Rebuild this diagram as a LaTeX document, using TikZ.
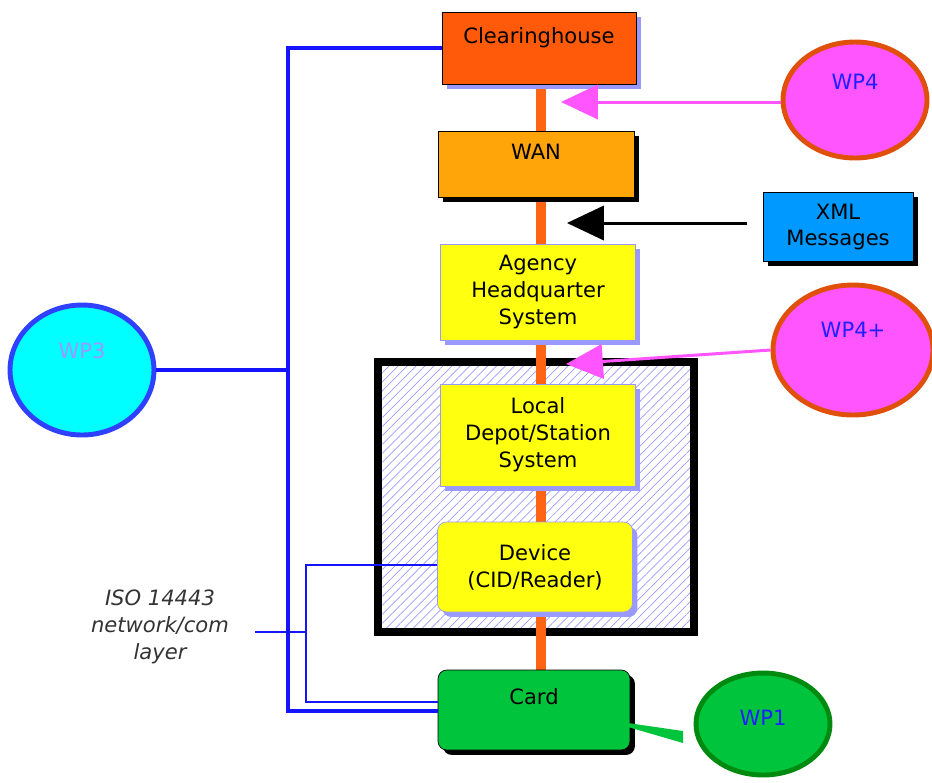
\documentclass[tikz,border=0pt]{standalone}
\usepackage{fontspec}
\setmainfont{DejaVu Sans}
\usetikzlibrary{arrows.meta,shapes.geometric,shadows,patterns.meta}
\definecolor{chorange}{HTML}{FF5A0A}
\definecolor{wanorange}{HTML}{FFA50A}
\definecolor{barorange}{HTML}{FF6414}
\definecolor{boxyellow}{HTML}{FFFF10}
\definecolor{lav}{HTML}{9999FF}
\definecolor{xmlblue}{HTML}{0099FF}
\definecolor{cardgreen}{HTML}{00C43C}
\definecolor{wpgreen}{HTML}{008A10}
\definecolor{wppink}{HTML}{FF55FF}
\definecolor{wprim}{HTML}{E0500A}
\definecolor{wpcyan}{HTML}{00FFFF}
\definecolor{wprimblue}{HTML}{3040FF}
\definecolor{busblue}{HTML}{1414FF}
\definecolor{wptext}{HTML}{2020FF}
\definecolor{hatch}{HTML}{9A9AFF}
\tikzset{
  box/.style={rectangle, inner sep=0pt, align=center, font=\fontsize{12}{15.3}\selectfont},
  lavshadow/.style={drop shadow={shadow xshift=2.8pt, shadow yshift=-2.8pt, fill=lav, opacity=1}},
  blkshadow/.style={drop shadow={shadow xshift=2.8pt, shadow yshift=-2.8pt, fill=black, opacity=1}},
  raised/.style={text height=9pt, text depth=#1},
  wp/.style={ellipse, inner sep=0pt, line width=2.8pt, text=wptext, font=\fontsize{12}{15}\selectfont},
  bus/.style={busblue, line width=2.2pt},
  thinbus/.style={busblue, line width=0.6pt},
  bigtip/.style={-{Triangle[length=21pt,width=19.5pt]}, line width=1.7pt},
}
\begin{document}
\begin{tikzpicture}[x=0.02cm, y=-0.02cm]
    \useasboundingbox (0,0) rectangle (932,782);
    % hatched depot zone and the orange backbone
    \node [draw, line width=4.5pt, fill=white, minimum width=6.32cm, minimum height=5.4cm,
           pattern={Lines[angle=45, distance=3.6pt, line width=0.4pt]}, pattern color=hatch] (zone) at (536,497) {};
    \coordinate (bartop) at (541,84);
    \coordinate (barbot) at (541,670);
    \draw [barorange, line width=5.7pt] (bartop) -- (barbot);
    % the stack
    \node [box, raised=14pt, fill=chorange, draw=black, lavshadow, minimum width=3.88cm, minimum height=1.44cm] (ch) at (539,48) {Clearinghouse};
    \node [box, raised=14pt, fill=wanorange, draw=black, blkshadow, minimum width=3.92cm, minimum height=1.32cm] (wan) at (536,164) {WAN};
    \node [box, fill=boxyellow, draw=lav, lavshadow, minimum width=3.9cm, minimum height=1.92cm] (ahq) at (538,292) {Agency\\Headquarter\\System};
    \node [box, fill=boxyellow, draw=lav, lavshadow, minimum width=3.9cm, minimum height=2.04cm] (lds) at (538,435) {Local\\Depot/Station\\System};
    \node [box, rounded corners=5pt, fill=boxyellow, draw=lav, lavshadow, minimum width=3.9cm, minimum height=1.8cm] (dev) at (535,567) {Device\\(CID/Reader)};
    \node [box, raised=15.2pt, rounded corners=5pt, fill=cardgreen, draw=black, blkshadow, minimum width=3.84cm, minimum height=1.6cm] (card) at (534,710) {Card};
    \node [box, fill=xmlblue, draw=black, blkshadow, minimum width=3cm, minimum height=1.38cm] (xml) at (838,227) {XML\\Messages};
    % work packages
    \node [wp, raised=20.7pt, fill=wppink, draw=wprim, minimum width=2.88cm, minimum height=2.32cm] (wp4) at (855,100) {WP4};
    \node [wp, raised=22.9pt, fill=wppink, draw=wprim, minimum width=3.2cm, minimum height=2.6cm] (wp4p) at (853,350) {WP4+};
    \node [wp, raised=7.1pt, fill=cardgreen, draw=wpgreen, minimum width=2.68cm, minimum height=2.04cm] (wp1) at (763,724) {WP1};
    \node [wp, raised=21.9pt, fill=wpcyan, draw=wprimblue, text=lav, minimum width=2.88cm, minimum height=2.6cm] (wp3) at (82,370) {WP3};
    \node [align=center, font=\fontsize{12}{15.3}\selectfont\itshape, text=black!80] (iso) at (160,627) {ISO 14443\\network/com\\layer};
    % arrows into the stack
    \coordinate (t4) at (561,102);
    \coordinate (txml) at (567,223);
    \coordinate (sxml) at (747,223);
    \coordinate (t4p) at (566,364);
    \draw [wppink, bigtip] (t4 -| wp4.west) -- (t4);
    \draw [black, bigtip] (sxml) -- (txml);
    \draw [wppink, bigtip] (wp4p.west) -- (t4p);
    \fill [cardgreen] (628,723) -- (683,731) -- (683,743) -- (628,727) -- cycle;
    % WP3 bus
    \coordinate (bustop) at (288,48);
    \coordinate (busbot) at (288,711);
    \draw [bus] (ch.west) -- (bustop) -- (busbot) -- (card.west |- busbot);
    \draw [bus] (wp3.east) -- (wp3.east -| bustop);
    % ISO 14443 link
    \coordinate (tb1) at (306,565);
    \coordinate (tb2) at (306,702);
    \coordinate (isoend) at (255,632);
    \draw [thinbus] (dev.west |- tb1) -- (tb1) -- (tb2) -- (card.west |- tb2);
    \draw [thinbus] (isoend) -- (isoend -| tb1);
\end{tikzpicture}
\end{document}
